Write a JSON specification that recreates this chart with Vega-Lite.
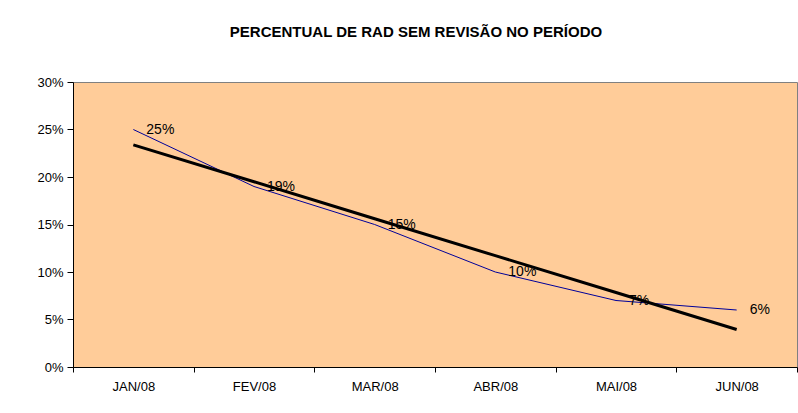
{
  "$schema": "https://vega.github.io/schema/vega-lite/v6.json",
  "autosize": "none",
  "width": 724,
  "height": 285,
  "padding": {"left": 73, "top": 82, "right": 1, "bottom": 46},
  "background": "white",
  "title": {
    "text": "PERCENTUAL DE RAD SEM REVISÃO NO PERÍODO",
    "font": "Liberation Sans",
    "fontSize": 15,
    "fontWeight": "bold",
    "color": "#000000",
    "anchor": "middle",
    "dx": -19,
    "offset": 36
  },
  "config": {
    "view": {"fill": "#FFCC99", "stroke": "#808080", "strokeWidth": 1},
    "axis": {
      "labelFont": "Liberation Sans",
      "labelFontSize": 13,
      "labelColor": "#000000",
      "domainColor": "#000000",
      "tickColor": "#000000",
      "grid": false,
      "title": null
    }
  },
  "data": {
    "values": [
      {"mes": "JAN/08", "pct": 0.25, "tendencia": 0.2338},
      {"mes": "FEV/08", "pct": 0.19, "tendencia": 0.1950},
      {"mes": "MAR/08", "pct": 0.15, "tendencia": 0.1561},
      {"mes": "ABR/08", "pct": 0.10, "tendencia": 0.1172},
      {"mes": "MAI/08", "pct": 0.07, "tendencia": 0.0784},
      {"mes": "JUN/08", "pct": 0.06, "tendencia": 0.0395}
    ]
  },
  "encoding": {
    "x": {
      "field": "mes",
      "type": "ordinal",
      "sort": null,
      "scale": {"paddingInner": 0, "paddingOuter": 0},
      "axis": {"labelAngle": 0, "tickBand": "extent", "tickSize": 5, "labelPadding": 8, "domainWidth": 1}
    }
  },
  "layer": [
    {
      "mark": {"type": "line", "color": "#000099", "strokeWidth": 1},
      "encoding": {
        "y": {
          "field": "pct",
          "type": "quantitative",
          "scale": {"domain": [0, 0.3]},
          "axis": {"format": ".0%", "values": [0, 0.05, 0.1, 0.15, 0.2, 0.25, 0.3], "tickSize": 6, "labelPadding": 4}
        }
      }
    },
    {
      "mark": {"type": "line", "color": "#000000", "strokeWidth": 3},
      "encoding": {"y": {"field": "tendencia", "type": "quantitative"}}
    },
    {
      "mark": {"type": "text", "align": "left", "baseline": "middle", "dx": 13, "font": "Liberation Sans", "fontSize": 14, "color": "#000000"},
      "encoding": {
        "y": {"field": "pct", "type": "quantitative"},
        "text": {"field": "pct", "type": "quantitative", "format": ".0%"}
      }
    }
  ]
}
